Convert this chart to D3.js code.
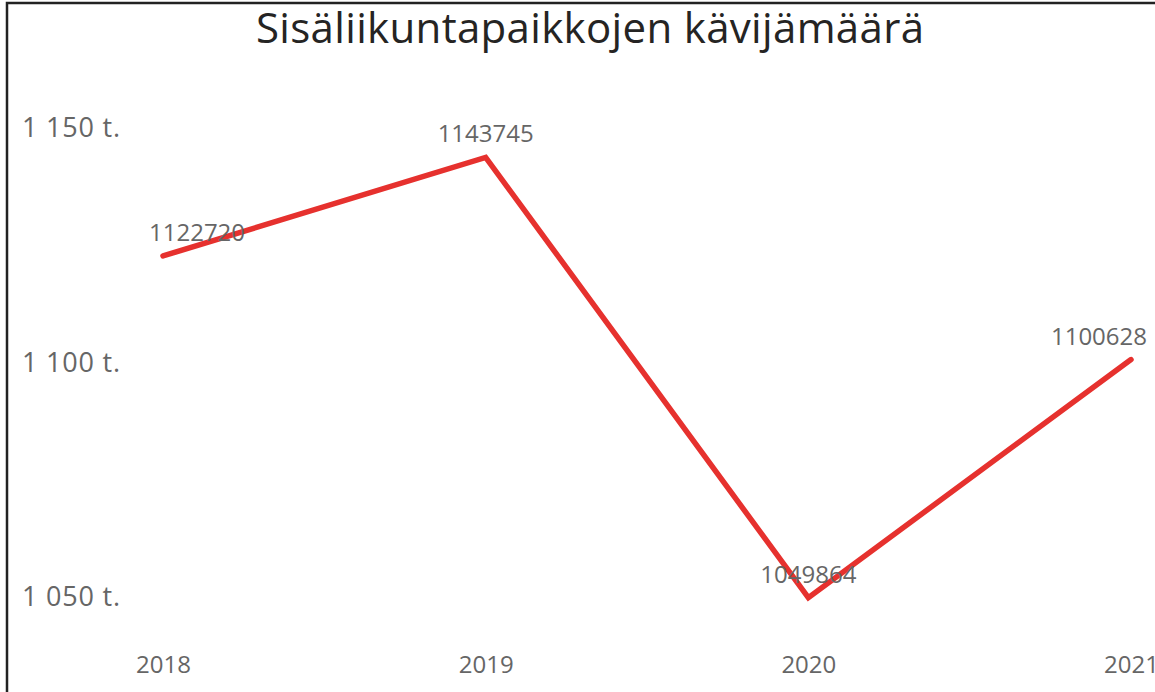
<!DOCTYPE html>
<html>
<head>
<meta charset="utf-8">
<script src="https://cdn.jsdelivr.net/npm/d3@7"></script>
<style>
  body { margin: 0; background: #fff; }
  svg { display: block; font-family: "Segoe UI", "Open Sans", sans-serif; }
</style>
</head>
<body>
<svg id="chart" width="1155" height="692"></svg>
<script>
const years = ["2018", "2019", "2020", "2021"];
const visitors = [1122720, 1143745, 1049864, 1100628];
const yTicks = [1050000, 1100000, 1150000];
const title = "Sisäliikuntapaikkojen kävijämäärä";

const svg = d3.select("#chart");
const width = +svg.attr("width");
const height = +svg.attr("height");

// frame (only top and left edges show in the crop)
svg.append("path")
  .attr("d", `M7,${height} V3 H${width}`)
  .attr("fill", "none")
  .attr("stroke", "#222")
  .attr("stroke-width", 2.5);

svg.append("text")
  .attr("x", 590)
  .attr("y", 43)
  .attr("text-anchor", "middle")
  .attr("font-size", 42)
  .attr("textLength", 668)
  .attr("fill", "#252423")
  .text(title);

const x = d3.scalePoint().domain(years).range([163, 1131]);
const y = d3.scaleLinear().domain([1050000, 1150000]).range([597, 128]);

const fmt = d => d3.format(",")(d / 1000).replace(/,/g, " ") + " t.";

const yAxis = svg.append("g")
  .attr("transform", "translate(22,0)")
  .call(d3.axisRight(y).tickValues(yTicks).tickFormat(fmt).tickSize(0).tickPadding(0));
yAxis.select(".domain").remove();
yAxis.selectAll("text")
  .attr("font-family", "'Segoe UI', 'Open Sans', sans-serif")
  .attr("font-size", 27)
  .attr("letter-spacing", 0.8)
  .attr("fill", "#666");

const xAxis = svg.append("g")
  .attr("transform", "translate(0,656)")
  .call(d3.axisBottom(x).tickSize(0).tickPadding(0));
xAxis.select(".domain").remove();
xAxis.selectAll("text")
  .attr("font-family", "'Segoe UI', 'Open Sans', sans-serif")
  .attr("font-size", 24)
  .attr("fill", "#666");

const points = years.map((yr, i) => ({ year: yr, value: visitors[i] }));

const line = d3.line().x(d => x(d.year)).y(d => y(d.value));

svg.append("path")
  .datum(points)
  .attr("d", line)
  .attr("fill", "none")
  .attr("stroke", "#E6312E")
  .attr("stroke-width", 5.5)
  .attr("stroke-linejoin", "miter")
  .attr("stroke-linecap", "round");

const plotLeft = 149, plotRight = 1147;
const labels = svg.append("g").selectAll("text")
  .data(points)
  .join("text")
  .attr("y", d => y(d.value) - 15)
  .attr("text-anchor", "middle")
  .attr("font-size", 24)
  .attr("fill", "#666")
  .text(d => d.value);

labels.attr("x", function(d) {
  const w = this.getComputedTextLength();
  return Math.max(plotLeft + w / 2, Math.min(plotRight - w / 2, x(d.year)));
});
</script>
</body>
</html>
